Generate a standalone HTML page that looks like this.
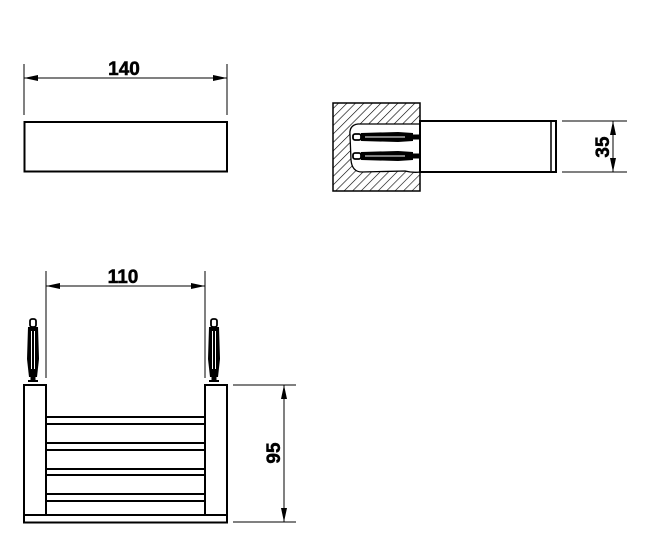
<!DOCTYPE html>
<html><head><meta charset="utf-8"><style>
html,body{margin:0;padding:0;background:#fff;width:672px;height:558px;overflow:hidden}
svg{display:block}
text{font-family:"Liberation Sans",sans-serif;font-weight:bold;font-size:19px;fill:#000;stroke:#000;stroke-width:0.5}
</style></head><body>
<svg width="672" height="558" viewBox="0 0 672 558" xmlns="http://www.w3.org/2000/svg">
<defs>
<pattern id="h" width="6" height="6" patternUnits="userSpaceOnUse" patternTransform="rotate(45)">
<rect width="6" height="6" fill="#fff"/><line x1="0" y1="0" x2="0" y2="6" stroke="#000" stroke-width="1.2"/>
</pattern>
<g id="anc">
<rect x="-3" y="0" width="6" height="8" rx="2" fill="#fff" stroke="#000" stroke-width="1.8"/>
<path d="M-5,8 L5,8 L6,40 L4,58 L-4,58 L-6,40 Z" fill="#000"/>
<line x1="-1.5" y1="12" x2="-1.5" y2="50" stroke="#fff" stroke-width="1"/>
<line x1="1.5" y1="12" x2="1.5" y2="50" stroke="#fff" stroke-width="1"/>
<rect x="-2.5" y="58" width="5" height="4" fill="#000"/>
<rect x="-5" y="61" width="10" height="2" fill="#000"/>
</g>
<g id="ancH">
<rect x="0" y="-3" width="8" height="6" rx="2" fill="#fff" stroke="#000" stroke-width="1.8"/>
<path d="M8,-4 L45,-5 L60,-4 L60,4 L45,5 L8,4 Z" fill="#000"/>
<line x1="12" y1="0" x2="52" y2="0" stroke="#fff" stroke-width="1"/>
<rect x="60" y="-2.5" width="8" height="5" fill="#000"/>
</g>
</defs>
<g stroke="#000" fill="none">
<line x1="24" y1="64" x2="24" y2="115" stroke-width="1"/>
<line x1="227" y1="64" x2="227" y2="115" stroke-width="1"/>
<line x1="24" y1="78" x2="227" y2="78" stroke-width="1"/>
<rect x="24.5" y="122" width="202.5" height="49.5" stroke-width="2"/>
<rect x="333" y="103" width="87" height="88" fill="url(#h)" stroke-width="1.5"/>
<path d="M420,124 L358,124 Q349,125 350,135 L351,160 Q352,172 362,172 L405,171 Q413,173 420,172 Z" fill="#fff" stroke-width="1.3"/>
<rect x="420" y="121" width="136" height="51" stroke-width="2" fill="#fff"/>
<line x1="551" y1="121" x2="551" y2="172" stroke-width="1.5"/>
<line x1="562" y1="121" x2="627" y2="121" stroke-width="1"/>
<line x1="562" y1="172" x2="627" y2="172" stroke-width="1"/>
<line x1="613" y1="121" x2="613" y2="172" stroke-width="1"/>
<line x1="46" y1="271" x2="46" y2="378" stroke-width="1"/>
<line x1="205" y1="271" x2="205" y2="378" stroke-width="1"/>
<line x1="46" y1="286" x2="205" y2="286" stroke-width="1"/>
<rect x="24" y="385" width="22" height="130" stroke-width="2"/>
<rect x="205" y="385" width="22" height="130" stroke-width="2"/>
<rect x="24" y="515" width="203" height="7.5" stroke-width="2"/>
<g stroke-width="2">
<line x1="46" y1="417" x2="205" y2="417"/><line x1="46" y1="424" x2="205" y2="424"/>
<line x1="46" y1="443" x2="205" y2="443"/><line x1="46" y1="450" x2="205" y2="450"/>
<line x1="46" y1="469" x2="205" y2="469"/><line x1="46" y1="475" x2="205" y2="475"/>
<line x1="46" y1="494" x2="205" y2="494"/><line x1="46" y1="501" x2="205" y2="501"/>
</g>
<line x1="233" y1="385" x2="296" y2="385" stroke-width="1"/>
<line x1="233" y1="522" x2="296" y2="522" stroke-width="1"/>
<line x1="284" y1="385" x2="284" y2="522" stroke-width="1"/>
</g>
<g fill="#000">
<path d="M24,78 L38,75 L38,81 Z"/><path d="M227,78 L213,75 L213,81 Z"/>
<path d="M46,286 L60,283 L60,289 Z"/><path d="M205,286 L191,283 L191,289 Z"/>
<path d="M613,121 L610,135 L616,135 Z"/><path d="M613,172 L610,158 L616,158 Z"/>
<path d="M284,385 L281,399 L287,399 Z"/><path d="M284,522 L281,508 L287,508 Z"/>
</g>
<use href="#anc" x="33" y="319"/>
<use href="#anc" x="214" y="319"/>
<use href="#ancH" x="353" y="137"/>
<use href="#ancH" x="353" y="156"/>
<text x="124" y="75" text-anchor="middle">140</text>
<text x="123" y="283" text-anchor="middle">110</text>
<text transform="translate(609,147) rotate(-90)" text-anchor="middle">35</text>
<text transform="translate(280,453) rotate(-90)" text-anchor="middle">95</text>
</svg>
</body></html>
